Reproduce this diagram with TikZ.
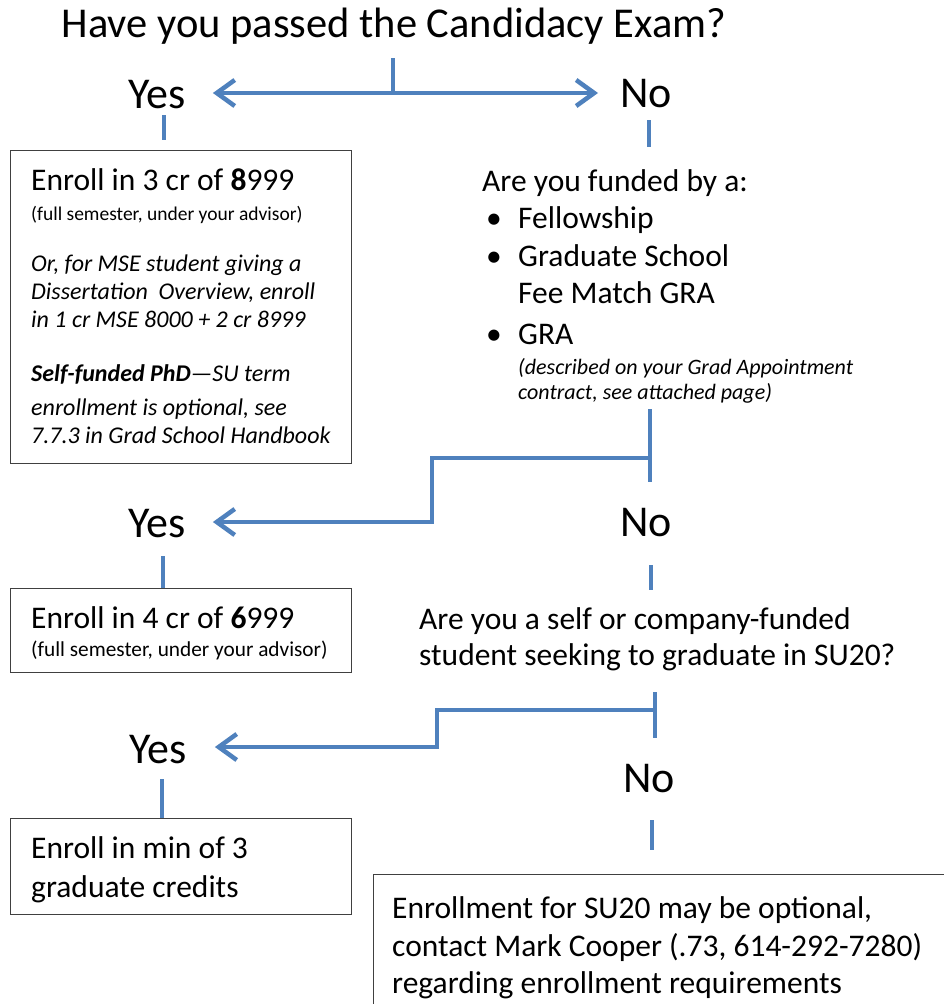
\documentclass[tikz,border=0pt]{standalone}
\usepackage{fontspec}
\setmainfont{Carlito}
\usetikzlibrary{arrows.meta}
\definecolor{conn}{HTML}{4F81BD}
\tikzset{
  conline/.style={draw=conn, line width=4.5pt, line cap=butt, line join=miter},
  arr/.style={conline, -{Straight Barb[length=18pt,width=26pt]}},
  box/.style={draw=black!75, line width=1.2pt, inner sep=0pt, anchor=north west},
  txt/.style={inner sep=0pt, anchor=base west, font=\fontsize{31.5}{37}\selectfont},
  smallb/.style={inner sep=0pt, anchor=base west, font=\fontsize{19.5}{23}\selectfont},
  small/.style={inner sep=0pt, anchor=base west, font=\fontsize{21.3}{25}\selectfont},
  ital/.style={inner sep=0pt, anchor=base west, font=\fontsize{24}{28}\selectfont\itshape},
  itals/.style={inner sep=0pt, anchor=base west, font=\fontsize{22}{27}\selectfont\itshape},
  big/.style={inner sep=0pt, anchor=base, font=\fontsize{44}{50}\selectfont},
  ttl/.style={inner sep=0pt, anchor=base, font=\fontsize{42.5}{50}\selectfont},
}
\begin{document}
\begin{tikzpicture}[x=1pt,y=-1pt]
\clip (0,0) rectangle (944,1004);
\fill[white] (0,0) rectangle (944,1004);
% title and first branch
\node[ttl] (title) at (394,37) {Have you passed the Candidacy Exam?};
\node[big] (yes1) at (157,108) {Yes};
\node[big] (no1) at (646,107) {No};
\coordinate (t1) at (393,58);
\coordinate (j1) at (393,93);
\draw[conline] (t1) -- (j1);
\draw[arr] (j1) -- ([xshift=-22pt]no1.west |- j1);
\draw[arr] (j1) -- ([xshift=27pt]yes1.east |- j1);
% box 1
\node[box, minimum width=341pt, minimum height=313pt] (b1) at (10,150) {};
\coordinate (y1a) at (164,115);
\coordinate (y1b) at (164,140);
\draw[conline] (y1a) -- (y1b);
\node[txt] (b1l1) at (31,190) {Enroll in 3 cr of \textbf{8}999};
\node[smallb] (b1l2) at (31,220) {(full semester, under your advisor)};
\node[ital] (b1l3) at (31,271) {Or, for MSE student giving a};
\node[ital] (b1l4) at (31,299) {Dissertation\ \ Overview, enroll};
\node[ital] (b1l5) at (31,327) {in 1 cr MSE 8000 + 2 cr 8999};
\node[ital] (b1l6) at (31,381) {\textbf{Self-funded PhD}—SU term};
\node[ital] (b1l7) at (31,415) {enrollment is optional, see};
\node[ital] (b1l8) at (31,443) {7.7.3 in Grad School Handbook};
% right column question 1
\coordinate (n1a) at (649,120);
\coordinate (n1b) at (649,147);
\draw[conline] (n1a) -- (n1b);
\node[txt] (q1) at (482,191) {Are you funded by a:};
\node[txt] (bu1) at (486,228) {•};
\node[txt] (f1) at (518,228) {Fellowship};
\node[txt] (bu2) at (486,266) {•};
\node[txt] (f2) at (518,266) {Graduate School};
\node[txt] (f3) at (518,303) {Fee Match GRA};
\node[txt] (bu3) at (486,344) {•};
\node[txt] (f4) at (518,344) {GRA};
\node[itals] (f5) at (518,374) {(described on your Grad Appointment};
\node[itals] (f6) at (518,399) {contract, see attached page)};
% second branch
\node[big] (yes2) at (157,537) {Yes};
\node[big] (no2) at (646,536) {No};
\coordinate (s2a) at (650,409);
\coordinate (s2b) at (650,482);
\coordinate (s2c) at (650,458);
\coordinate (s2d) at (432,458);
\coordinate (s2e) at (432,522);
\draw[conline] (s2a) -- (s2b);
\draw[arr] (s2c) -- (s2d) -- (s2e) -- ([xshift=27pt]yes2.east |- s2e);
\node[box, minimum width=341pt, minimum height=84pt] (b2) at (10,588) {};
\coordinate (y2a) at (163,556);
\draw[conline] (y2a) -- (b2.north -| y2a);
\node[txt] (b2l1) at (31,628) {Enroll in 4 cr of \textbf{6}999};
\node[small] (b2l2) at (31,656) {(full semester, under your advisor)};
\coordinate (n2a) at (651,565);
\coordinate (n2b) at (651,590);
\draw[conline] (n2a) -- (n2b);
\node[txt] (q2a) at (419,629) {Are you a self or company-funded};
\node[txt] (q2b) at (419,665) {student seeking to graduate in SU20?};
% third branch
\node[big] (yes3) at (158,763) {Yes};
\node[big] (no3) at (649,792) {No};
\coordinate (s3a) at (655,692);
\coordinate (s3b) at (655,738);
\coordinate (s3c) at (655,710);
\coordinate (s3d) at (437,710);
\coordinate (s3e) at (437,747);
\draw[conline] (s3a) -- (s3b);
\draw[arr] (s3c) -- (s3d) -- (s3e) -- ([xshift=28pt]yes3.east |- s3e);
\node[box, minimum width=341pt, minimum height=96pt] (b3) at (10,818) {};
\coordinate (y3a) at (162,779);
\draw[conline] (y3a) -- (b3.north -| y3a);
\node[txt] (b3l1) at (31,858) {Enroll in min of 3};
\node[txt] (b3l2) at (31,897) {graduate credits};
\coordinate (n3a) at (652,820);
\coordinate (n3b) at (652,850);
\draw[conline] (n3a) -- (n3b);
\node[box, minimum width=620pt, minimum height=200pt] (b4) at (373,874) {};
\node[txt] (b4l1) at (392,918) {Enrollment for SU20 may be optional,};
\node[txt] (b4l2) at (392,956) {contact Mark Cooper (.73, 614-292-7280)};
\node[txt] (b4l3) at (392,993) {regarding enrollment requirements};
\end{tikzpicture}
\end{document}
